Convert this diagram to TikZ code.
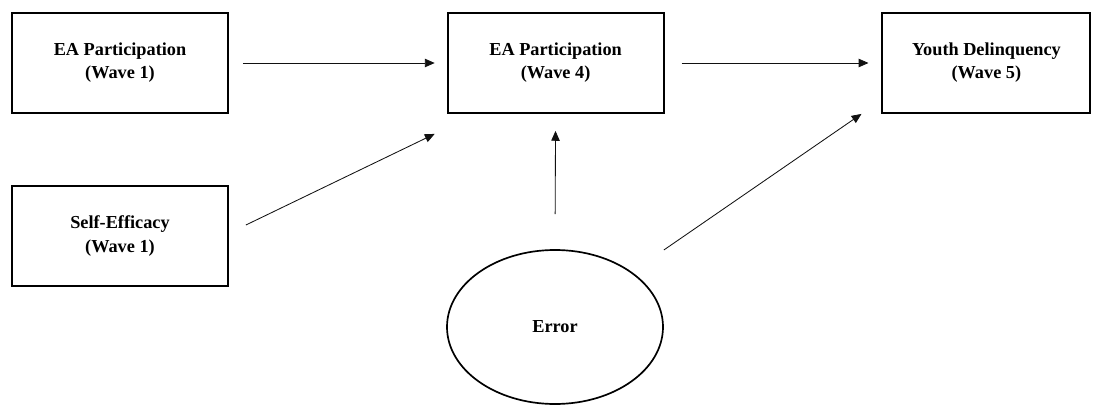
\documentclass[tikz,border=0pt]{standalone}
\usepackage{fontspec}
\setmainfont{Liberation Serif}
\usetikzlibrary{arrows.meta, positioning, calc, shapes.geometric}

\begin{document}
\begin{tikzpicture}[
    every node/.style={font=\fontsize{13}{16.5}\selectfont\bfseries, align=center},
    varbox/.style={draw, line width=1.3pt, minimum height=2.5cm},
    errnode/.style={draw, ellipse, line width=1.2pt, minimum width=5.4cm, minimum height=3.85cm},
    path/.style={-{Triangle[length=7pt, width=6pt]}, line width=0.6pt},
]

\definecolor{ink}{HTML}{111111}

\def\bw{5.4}   % box width

% canvas of the figure
\useasboundingbox (0, 0) rectangle (27.325, 10.125);

% ---------------------------------------------------------------- variables
\node[varbox, minimum width=\bw cm] (ea1) at (3.0, 8.55) {EA Participation\\(Wave 1)};
\node[varbox, minimum width=\bw cm] (se) at (3.0, 4.225) {Self-Efficacy\\(Wave 1)};
\node[varbox, minimum width=\bw cm] (ea4) at (13.89, 8.55) {EA Participation\\(Wave 4)};
\node[varbox, minimum width=5.2cm] (yd) at (24.66, 8.55) {Youth Delinquency\\(Wave 5)};

\node[errnode] (err) at (13.875, 1.95) {Error};

% ---------------------------------------------------------------- paths
\draw[path, ink, shorten <=0.35cm, shorten >=0.3cm] (ea1.east) -- (ea4.west);
\draw[path, ink, shorten <=0.425cm, shorten >=0.325cm] (ea4.east) -- (yd.west);
\draw[path, ink] ([shift={(0.425, 0.275)}]se.east) -- ([shift={(-0.3, -0.5)}]ea4.south west);
\draw[path, ink, shorten <=0.875cm, shorten >=0.425cm] (err.north) -- (ea4.south);
\draw[path, ink] ([yshift=1.925cm]err.east) -- ([xshift=-0.5cm]yd.south west);

\end{tikzpicture}
\end{document}
